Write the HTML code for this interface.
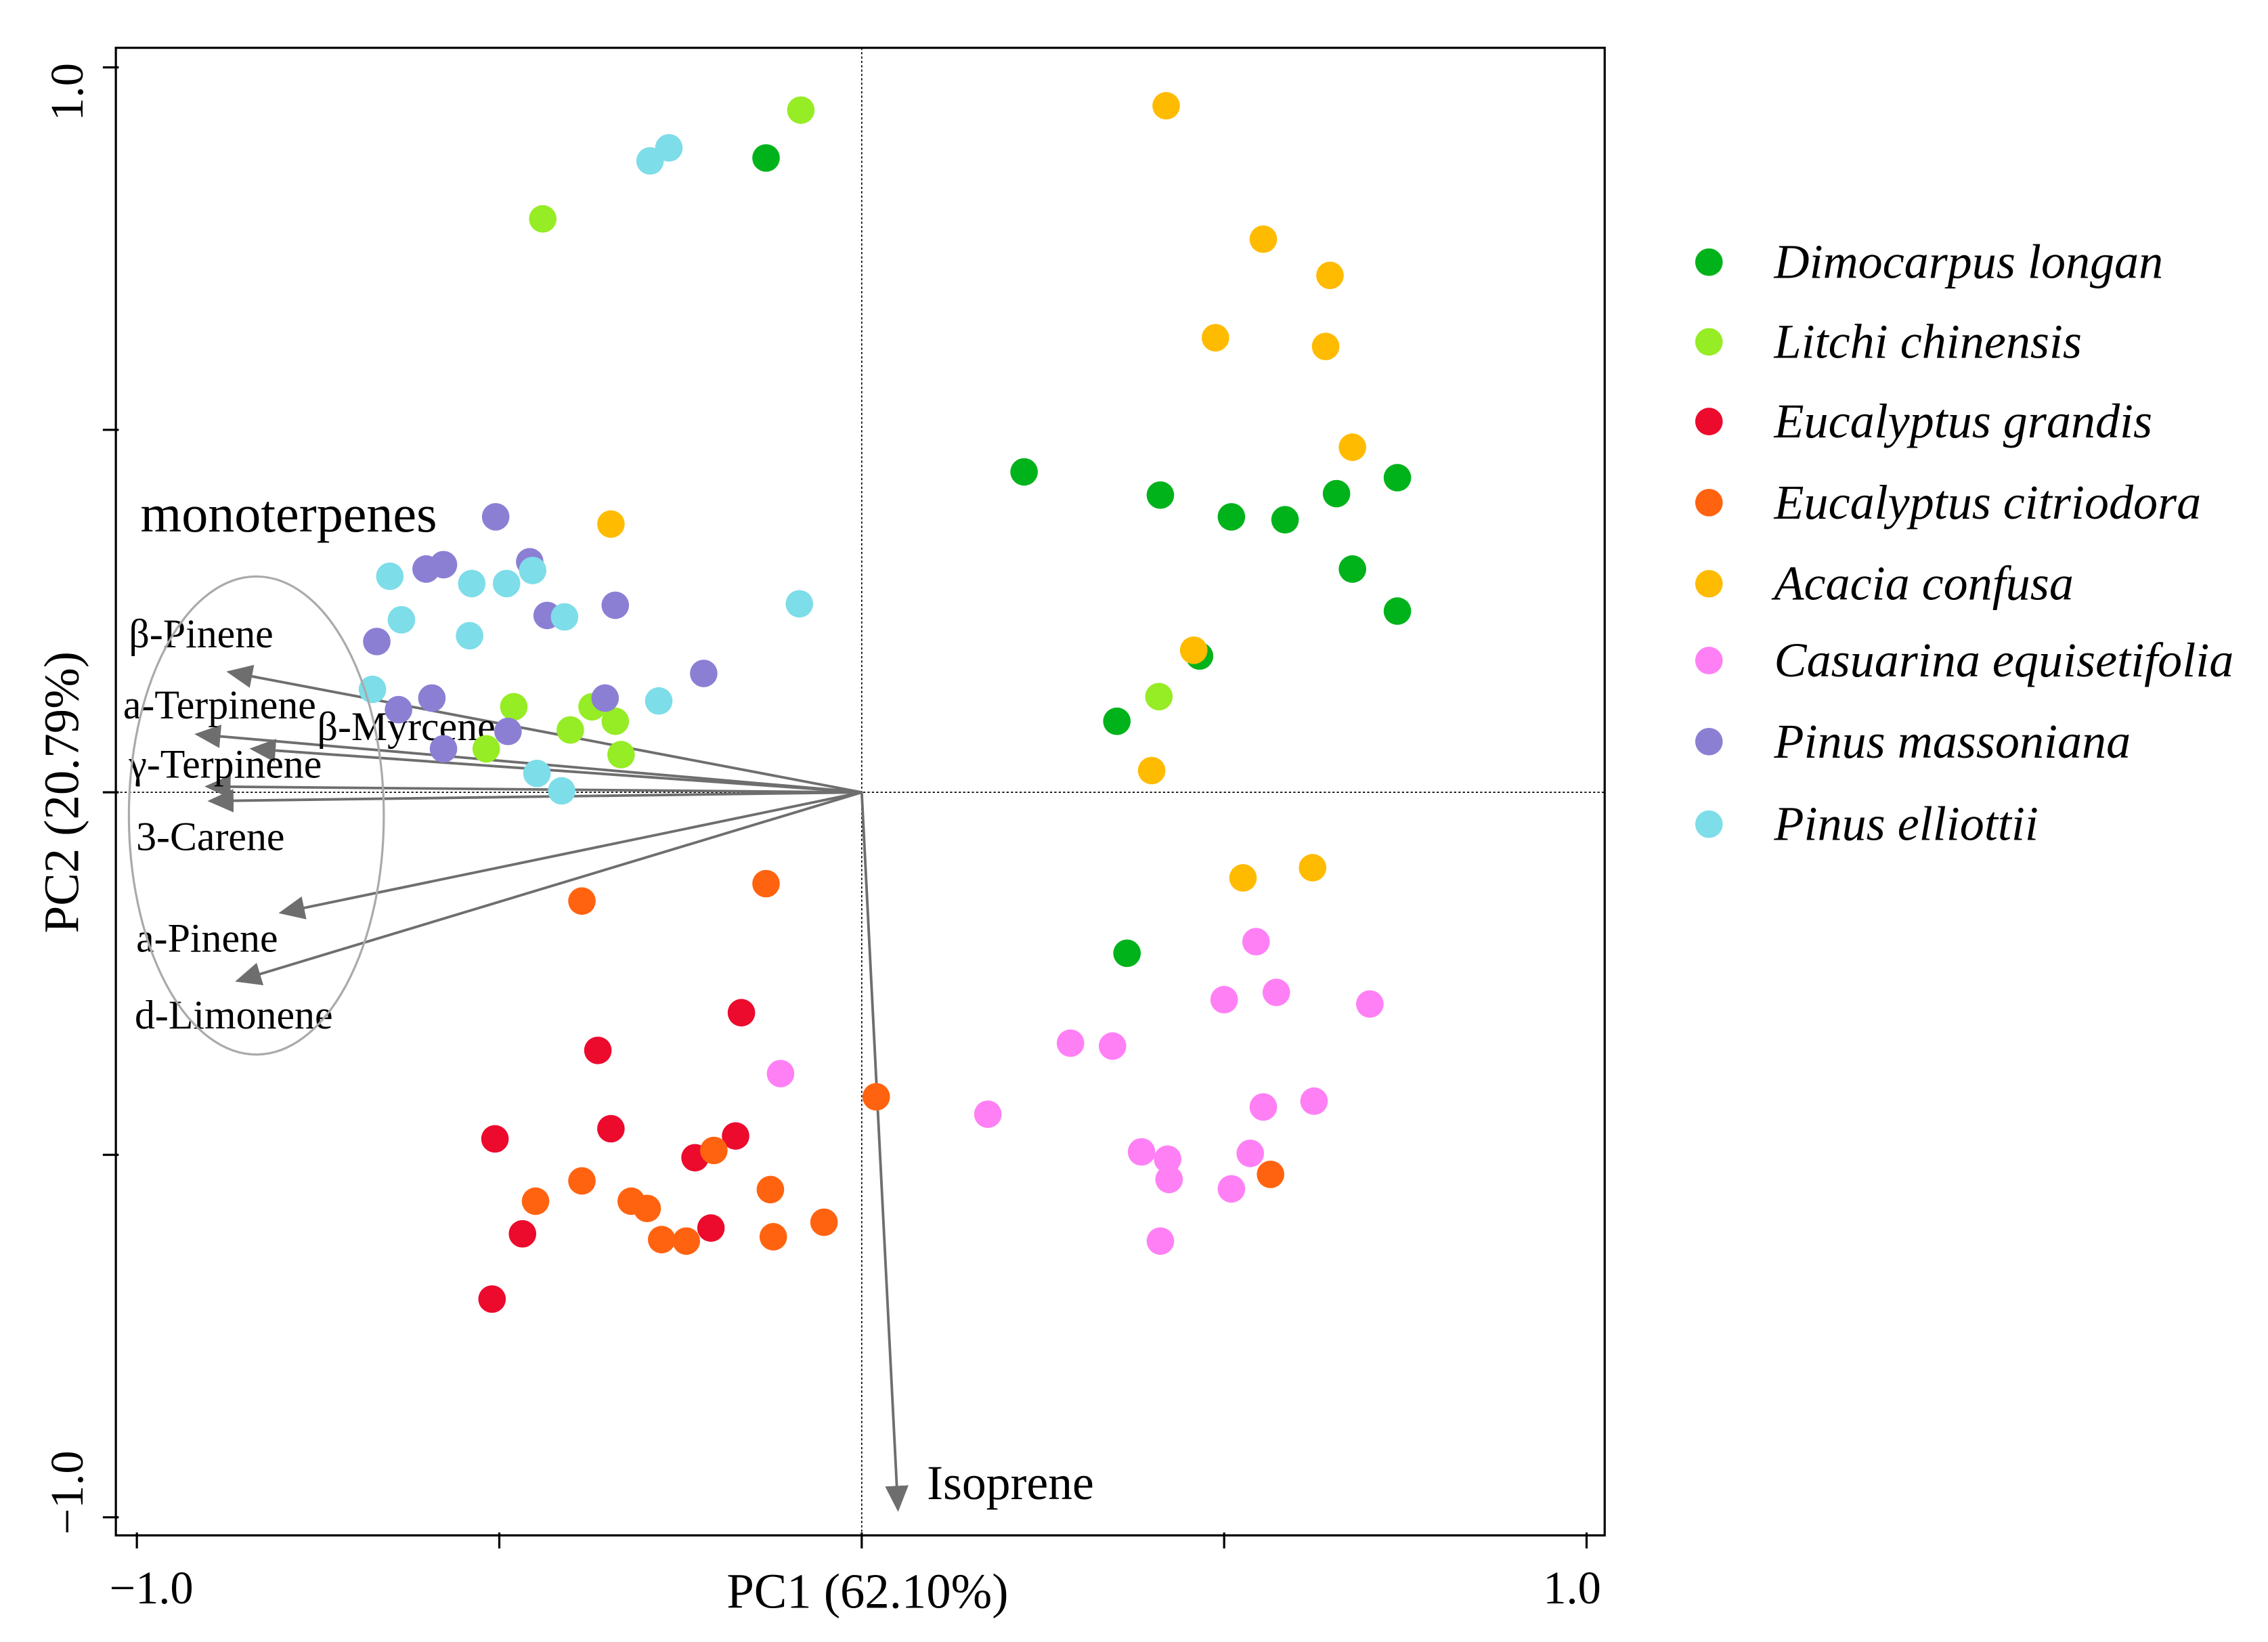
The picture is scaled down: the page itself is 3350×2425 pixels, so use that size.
<!DOCTYPE html>
<html><head><meta charset="utf-8">
<style>
html,body{margin:0;padding:0;background:#fff;}
svg{display:block;}
text{font-family:"Liberation Serif",serif;}
</style></head>
<body>
<svg id="chart" width="3350" height="2425" viewBox="0 0 1566 1133.6" preserveAspectRatio="none" xmlns="http://www.w3.org/2000/svg">
<defs>
<marker id="ah" viewBox="0 0 10 10" refX="9" refY="5" markerWidth="10" markerHeight="10" orient="auto"><path d="M0,0.5 L10,5 L0,9.5 z" fill="#6e6e6e"/></marker>
</defs>
<rect x="80" y="33" width="1028" height="1027" fill="none" stroke="#000" stroke-width="1.5"/>
<g id="axes"></g>
<g id="arrows"></g>
<g id="points"></g>
<g id="legend"></g>
<ellipse cx="177" cy="563" rx="88" ry="165" fill="none" stroke="#aaa" stroke-width="1.5"/>
<text x="97" y="367" font-size="36.5">monoterpenes</text>
<text x="599" y="1110" font-size="34" text-anchor="middle">PC1 (62.10%)</text>
<text transform="translate(54,547) rotate(-90)" font-size="34" text-anchor="middle">PC2 (20.79%)</text>
</svg>
<script>
const NS="http://www.w3.org/2000/svg";
const X0=595,Y0=547,S=500.5;
function sx(v){return X0+v*S;}
function sy(v){return Y0-v*S;}
function mk(tag,attrs,parent){const e=document.createElementNS(NS,tag);for(const k in attrs)e.setAttribute(k,attrs[k]);parent.appendChild(e);return e;}

const xTicks=[-1,-0.5,0,0.5,1];
const yTicks=[-1,-0.5,0,0.5,1];
const xTickLabels=["\u22121.0","","","","1.0"];
const yTickLabels=["\u22121.0","","","","1.0"];

const speciesNames=["Dimocarpus longan","Litchi chinensis","Eucalyptus grandis","Eucalyptus citriodora","Acacia confusa","Casuarina equisetifolia","Pinus massoniana","Pinus elliottii"];
const speciesColors=["#00b31b","#96ec25","#ec0a2d","#ff6310","#ffbb00","#ff80f5","#8b7fd4","#7ddde9"];

const longanPC1=[-0.132,0.224,0.412,0.510,0.584,0.655,0.739,0.677,0.739,0.466,0.352,0.366];
const longanPC2=[0.875,0.442,0.410,0.380,0.376,0.412,0.434,0.308,0.250,0.188,0.098,-0.222];
const litchiPC1=[-0.084,-0.440,-0.480,-0.372,-0.340,-0.402,-0.518,-0.332,0.410];
const litchiPC2=[0.941,0.791,0.118,0.118,0.098,0.086,0.060,0.052,0.132];
const grandisPC1=[-0.166,-0.364,-0.506,-0.346,-0.230,-0.174,-0.468,-0.208,-0.510];
const grandisPC2=[-0.304,-0.356,-0.478,-0.464,-0.504,-0.474,-0.609,-0.601,-0.699];
const citriodoraPC1=[-0.132,-0.386,0.020,-0.450,-0.386,-0.318,-0.296,-0.204,-0.126,-0.276,-0.242,-0.122,-0.052,0.564];
const citriodoraPC2=[-0.126,-0.150,-0.420,-0.564,-0.536,-0.564,-0.574,-0.494,-0.548,-0.617,-0.619,-0.613,-0.593,-0.527];
const acaciaPC1=[0.420,0.554,0.646,0.488,0.640,0.677,-0.346,0.458,0.400,0.526,0.622];
const acaciaPC2=[0.947,0.763,0.713,0.627,0.615,0.476,0.370,0.196,0.030,-0.118,-0.104];
const casuarinaPC1=[0.544,0.500,0.572,0.701,0.288,0.346,-0.112,0.174,0.554,0.624,0.386,0.422,0.536,0.424,0.510,0.412];
const casuarinaPC2=[-0.206,-0.286,-0.276,-0.292,-0.346,-0.350,-0.388,-0.444,-0.434,-0.426,-0.496,-0.506,-0.498,-0.534,-0.547,-0.619];
const massonianaPC1=[-0.505,-0.601,-0.577,-0.458,-0.434,-0.340,-0.669,-0.218,-0.593,-0.354,-0.639,-0.488,-0.577];
const massonianaPC2=[0.380,0.308,0.314,0.318,0.244,0.258,0.208,0.164,0.130,0.130,0.114,0.084,0.060];
const elliottiiPC1=[-0.292,-0.266,-0.651,-0.538,-0.490,-0.454,-0.635,-0.410,-0.541,-0.086,-0.675,-0.280,-0.448,-0.414];
const elliottiiPC2=[0.871,0.889,0.298,0.288,0.288,0.306,0.238,0.242,0.216,0.260,0.142,0.126,0.026,0.002];

const loadingNames=["\u03b2-Pinene","a-Terpinene","\u03b2-Myrcene","\u03b3-Terpinene","3-Carene","a-Pinene","d-Limonene","Isoprene"];
const loadingPC1=[-0.873,-0.917,-0.841,-0.903,-0.899,-0.801,-0.861,0.050];
const loadingPC2=[0.166,0.080,0.060,0.008,-0.012,-0.166,-0.260,-0.989];

const ax=document.getElementById('axes');
mk('line',{x1:sx(0),y1:33,x2:sx(0),y2:1060,stroke:"#000","stroke-width":0.8,"stroke-dasharray":"1.5,1.5",},ax);
mk('line',{x1:80,y1:sy(0),x2:1108,y2:sy(0),stroke:"#000","stroke-width":0.8,"stroke-dasharray":"1.5,1.5",},ax);
xTicks.forEach((t,i)=>{
  const l=mk('line',{x1:sx(t),y1:1058,x2:sx(t),y2:1069,stroke:"#000","stroke-width":1.5},ax);
  
  
  if(xTickLabels[i]){const tx=mk('text',{x:sx(t)+(t<0?10:-10),y:1107,"font-size":32,"text-anchor":"middle"},ax);tx.textContent=xTickLabels[i];
  
  }
});
yTicks.forEach((t,i)=>{
  const l=mk('line',{x1:71,y1:sy(t),x2:82,y2:sy(t),stroke:"#000","stroke-width":1.5},ax);
  
  
  if(yTickLabels[i]){const y=sy(t)+(t<0?-17:17);const tx=mk('text',{transform:`translate(57,${y}) rotate(-90)`,"font-size":32,"text-anchor":"middle"},ax);tx.textContent=yTickLabels[i];
  
  }
});

const ar=document.getElementById('arrows');
const labelPos=[[89,447],[85,496],[219,511],[89,537],[94,587],[94,657],[93,710],[640,1035]];
loadingNames.forEach((n,i)=>{
  const l=mk('line',{x1:sx(0),y1:sy(0),x2:sx(loadingPC1[i]),y2:sy(loadingPC2[i]),stroke:"#6e6e6e","stroke-width":1.8,"marker-end":"url(#ah)"},ar);
  
  
  const t=mk('text',{x:labelPos[i][0],y:labelPos[i][1],"font-size":i===7?33.5:28},ar);
  t.textContent=n;
  
  
});

const pts=document.getElementById('points');
const series=[[longanPC1,longanPC2],[litchiPC1,litchiPC2],[grandisPC1,grandisPC2],[citriodoraPC1,citriodoraPC2],[acaciaPC1,acaciaPC2],[casuarinaPC1,casuarinaPC2],[massonianaPC1,massonianaPC2],[elliottiiPC1,elliottiiPC2]];
series.forEach((s,k)=>{
  s[0].forEach((v,i)=>{
    const c=mk('circle',{cx:sx(v),cy:sy(s[1][i]),r:9.5,fill:speciesColors[k]},pts);
    
    
  });
});

const lg=document.getElementById('legend');
const lgY=[181,236,291,347,403,456,512,569];
speciesNames.forEach((n,i)=>{
  const c=mk('circle',{cx:1180,cy:lgY[i],r:9.5,fill:speciesColors[i]},lg);
  
  
  const t=mk('text',{x:1225,y:lgY[i]+11,"font-size":33.7,"font-style":"italic"},lg);
  t.textContent=n;
  
  
});
</script>
</body></html>
